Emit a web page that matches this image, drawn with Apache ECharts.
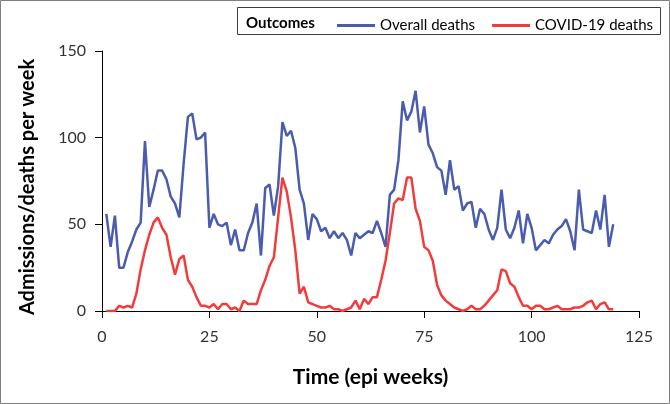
<!DOCTYPE html>
<html><head><meta charset="utf-8">
<script src="https://cdn.jsdelivr.net/npm/echarts@6/dist/echarts.min.js"></script>
<style>html,body{margin:0;padding:0;background:#fff}#c{width:670px;height:404px}</style>
</head><body><div id="c"></div>
<script>
var weeks = [];
for (var i = 1; i <= 119; i++) weeks.push(i);
var overallDeaths = [56,37,55,25,25,34,40,47,51,98,60,70,81,81,76,66,62,54,85,112,114,99,100,103,48,56,50,49,51,38,47,35,35,45,51,62,32,71,73,55,72,109,101,104,94,70,62,41,56,53,46,48,42,46,42,45,41,32,45,42,44,46,45,52,45,37,67,70,87,121,110,115,127,103,118,96,91,83,81,67,87,70,72,58,62,63,48,59,56,47,41,48,70,47,42,48,58,39,56,48,35,38,41,39,44,47,49,53,46,35,70,47,46,45,58,47,67,37,50];
var covidDeaths = [0,0,0,3,2,3,2,10,24,35,44,51,54,48,44,31,21,30,32,18,14,8,3,3,2,4,1,4,4,1,2,0,6,4,4,4,12,18,26,31,54,77,69,54,35,10,14,5,4,3,2,2,3,1,1,0,1,2,6,1,7,4,8,8,18,29,45,62,65,64,77,77,59,52,37,35,29,15,9,6,4,2,1,0,1,3,1,1,3,6,9,12,24,23,16,14,8,3,3,1,3,3,1,1,2,3,1,1,1,2,2,3,5,6,1,4,5,1,1];
var xTicks = [0,25,50,75,100,125];
var yTicks = [0,50,100,150];

function pairs(vals){ return weeks.map(function(w,i){ return [w, vals[i]]; }); }

var font = 'Lato, "Open Sans", sans-serif';
var chart = echarts.init(document.getElementById('c'), null, {renderer:'canvas'});
chart.setOption({
  animation: false,
  backgroundColor: '#fff',
  textStyle: {fontFamily: font},
  graphic: [
    {type:'rect', shape:{x:0.5,y:0.5,width:669,height:403}, style:{fill:'none', stroke:'#7f7f7f', lineWidth:1}, silent:true},
    {type:'rect', shape:{x:237.5,y:7.5,width:423,height:27}, style:{fill:'#fff', stroke:'#3f3f3f', lineWidth:1}, silent:true, z:-1},
    {type:'text', x:246, y:23, style:{text:'Outcomes', font:'bold 15px ' + font, fill:'#000', verticalAlign:'middle', align:'left'}},
    {type:'text', x:28, y:187, rotation: Math.PI/2, style:{text:'Admissions/deaths per week', font:'bold 20px ' + font, fill:'#000', verticalAlign:'middle', align:'center'}}
  ],
  legend: {
    left: 332, top: 13,
    icon: 'rect', itemWidth: 38, itemHeight: 3, itemGap: 17,
    textStyle: {fontSize: 15, color: '#000', fontFamily: font},
    data: ['Overall deaths', 'COVID-19 deaths']
  },
  grid: {left: 102, right: 31, top: 51, bottom: 93, containLabel: false},
  xAxis: {
    type: 'value', min: xTicks[0], max: xTicks[xTicks.length-1], interval: 25,
    name: 'Time (epi weeks)', nameLocation: 'middle', nameGap: 56,
    nameTextStyle: {fontSize: 21, fontWeight: 'bold', color: '#000', fontFamily: font},
    axisLine: {show: true, lineStyle: {color: '#000', width: 1}},
    axisTick: {show: true, length: 7, lineStyle: {color: '#000'}},
    axisLabel: {fontSize: 16, color: '#333', margin: 18},
    splitLine: {show: false}
  },
  yAxis: {
    type: 'value', min: yTicks[0], max: yTicks[yTicks.length-1], interval: 50,
    axisLine: {show: true, lineStyle: {color: '#000', width: 1}},
    axisTick: {show: true, length: 7, lineStyle: {color: '#000'}},
    axisLabel: {fontSize: 16, color: '#333', margin: 16},
    splitLine: {show: false}
  },
  series: [
    {name: 'Overall deaths', type: 'line', data: pairs(overallDeaths), showSymbol: false, symbol: 'none',
     lineStyle: {color: '#4a5cae', width: 2.5}, itemStyle: {color: '#4a5cae'}},
    {name: 'COVID-19 deaths', type: 'line', data: pairs(covidDeaths), showSymbol: false, symbol: 'none',
     lineStyle: {color: '#f23c3c', width: 2.5}, itemStyle: {color: '#f23c3c'}}
  ]
});
</script></body></html>
